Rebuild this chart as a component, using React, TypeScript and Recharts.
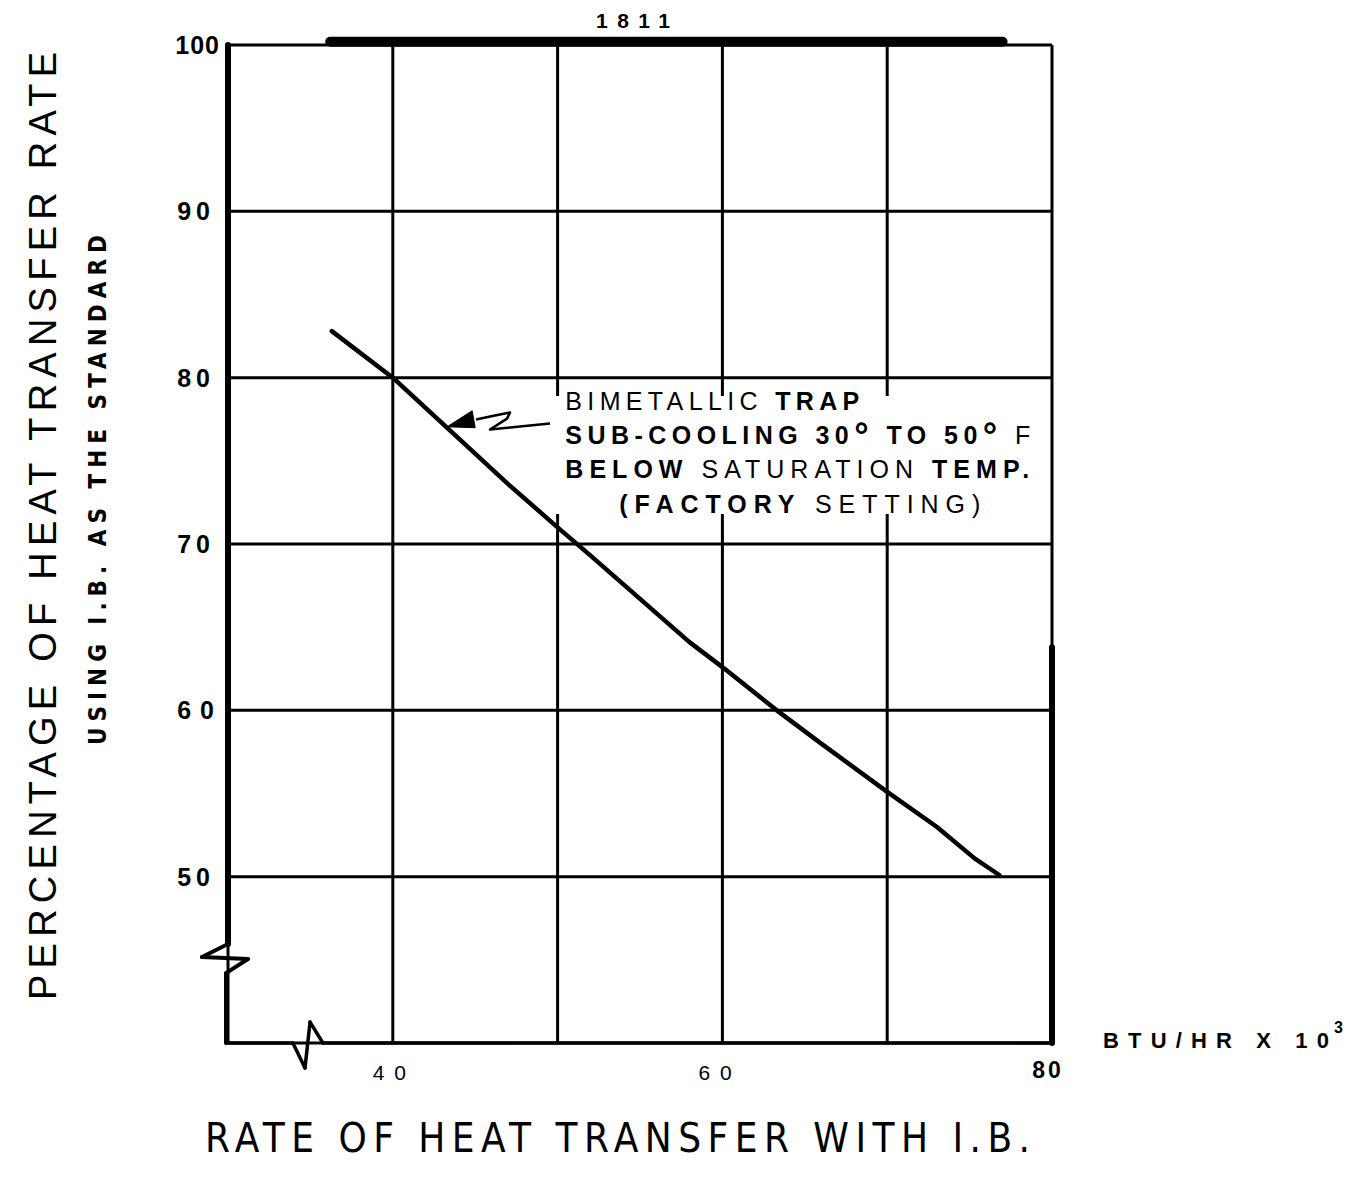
import React from "react";
import {
  ComposedChart,
  Line,
  XAxis,
  YAxis,
  CartesianGrid,
  ReferenceLine,
  ReferenceArea,
  ReferenceDot,
} from "recharts";

// heat transfer rate with I.B. (BTU/HR x 10^3) vs percentage of I.B. rate
const rateX = [36.3, 40, 43.5, 47, 50, 52, 55, 58, 60, 63.3, 66, 70, 73, 75.3, 76.8];
const pctY = [82.8, 80, 76.8, 73.6, 71.0, 69.3, 66.7, 64.1, 62.6, 60, 58, 55.1, 53.0, 51.1, 50.1];

const xTicks = [40, 50, 60, 70, 80];
const yTicks = [50, 60, 70, 80, 90, 100];
const xTickLabels: Record<number, string> = { 40: "4 0", 60: "6 0", 80: "80" };
const yTickLabels: Record<number, string> = {
  50: "50",
  60: "6 0",
  70: "70",
  80: "80",
  90: "90",
  100: "100",
};

// frame pieces (data units) - axis breaks drawn like the original sheet
const leftThick = [
  [30, 100],
  [30, 45.95],
];
const leftBreak = [
  [30, 45.95],
  [28.42, 45.17],
  [31.21, 45.05],
  [29.88, 44.2],
  [29.88, 40],
];
const bottomBreak = [
  [29.88, 40],
  [33.94, 40],
  [34.67, 38.5],
  [34.98, 41.26],
  [35.76, 40],
  [80, 40],
];
const rightThick = [
  [80, 63.8],
  [80, 40],
];
const band1811 = [
  [36.2, 100.2],
  [77.0, 100.2],
];
const arrowTip = [43.3, 77.05];
const arrowTail = [
  [45.05, 77.48],
  [46.2, 77.72],
  [47.11, 77.9],
  [46.93, 77.54],
  [45.9, 76.88],
  [47.72, 77.06],
  [49.54, 77.24],
];

const curveData = rateX.map((x, i) => ({ x, y: pctY[i] }));
const tailData = arrowTail.map(([x, y]) => ({ x, y }));

const FONT = "'Liberation Sans', Arial, Helvetica, sans-serif";
const NARROW = "'Liberation Sans Narrow', 'DejaVu Sans Condensed', 'Liberation Sans', sans-serif";

function segments(pts: number[][], width: number, prefix: string) {
  const out = [];
  for (let i = 0; i < pts.length - 1; i++) {
    out.push(
      <ReferenceLine
        key={`${prefix}-${i}`}
        segment={[
          { x: pts[i][0], y: pts[i][1] },
          { x: pts[i + 1][0], y: pts[i + 1][1] },
        ]}
        stroke="#000"
        strokeWidth={width}
        strokeLinecap="round"
        ifOverflow="visible"
      />
    );
  }
  return out;
}

const XTick = (props: any) => {
  const { x, y, payload } = props;
  const label = xTickLabels[payload.value];
  if (!label) return <g />;
  if (payload.value === 80) {
    return (
      <text
        x={x - 4}
        y={y + 35}
        textAnchor="middle"
        fontFamily={FONT}
        fontSize={23}
        fontWeight="bold"
        letterSpacing={3}
        fill="#000"
      >
        {label}
      </text>
    );
  }
  return (
    <text
      x={x - (payload.value === 40 ? 20 : 24)}
      y={y + 37}
      textAnchor="start"
      fontFamily={FONT}
      fontSize={21}
      letterSpacing={2}
      fill="#000"
    >
      {label}
    </text>
  );
};

const YTick = (props: any) => {
  const { x, y, payload } = props;
  const label = yTickLabels[payload.value];
  if (!label) return <g />;
  return (
    <text
      x={x - (payload.value === 100 ? 8 : 13)}
      y={y + 9}
      textAnchor="end"
      fontFamily={FONT}
      fontSize={25}
      fontWeight="bold"
      letterSpacing={label.length > 2 ? 1 : 5}
      fill="#000"
    >
      {label}
    </text>
  );
};

const BoxText = ({ viewBox }: any) => {
  const x0 = viewBox.x + 11;
  const y0 = viewBox.y;
  return (
    <g fontFamily={FONT} fontSize={25} fill="#000">
      <text x={x0} y={y0 + 14} textLength={294} lengthAdjust="spacing">
        <tspan>BIMETALLIC </tspan>
        <tspan fontWeight="bold">TRAP</tspan>
      </text>
      <text x={x0} y={y0 + 48} fontWeight="bold" textLength={465} lengthAdjust="spacing">
        <tspan>SUB-COOLING 30</tspan>
        <tspan fontSize={36} dy={4}>°</tspan>
        <tspan dy={-4}> TO 50</tspan>
        <tspan fontSize={36} dy={4}>°</tspan>
        <tspan dy={-4} fontWeight="normal"> F</tspan>
      </text>
      <text x={x0} y={y0 + 82} textLength={464} lengthAdjust="spacing">
        <tspan fontWeight="bold">BELOW </tspan>
        <tspan>SATURATION </tspan>
        <tspan fontWeight="bold">TEMP.</tspan>
      </text>
      <text x={x0 + 54} y={y0 + 117} textLength={361} lengthAdjust="spacing">
        <tspan fontWeight="bold">(FACTORY </tspan>
        <tspan>SETTING)</tspan>
      </text>
    </g>
  );
};

const ArrowHead = ({ cx, cy }: any) => (
  <polygon
    points={`${cx},${cy} ${cx + 25},${cy - 16} ${cx + 28},${cy + 1}`}
    fill="#000"
    stroke="#000"
    strokeWidth={1}
  />
);

export default function App() {
  return (
    <div
      style={{
        position: "absolute",
        left: 0,
        top: 0,
        width: 1356,
        height: 1178,
        background: "#fff",
      }}
    >
      <ComposedChart
        width={1356}
        height={1178}
        margin={{ top: 45, right: 304, bottom: 95, left: 168 }}
      >
        <CartesianGrid stroke="#000" strokeWidth={3} />
        <XAxis
          type="number"
          dataKey="x"
          domain={[30, 80]}
          ticks={xTicks}
          interval={0}
          height={40}
          axisLine={false}
          tickLine={false}
          tickSize={0}
          tickMargin={0}
          tick={XTick}
        />
        <YAxis
          type="number"
          dataKey="y"
          domain={[40, 100]}
          ticks={yTicks}
          interval={0}
          width={60}
          axisLine={false}
          tickLine={false}
          tickSize={0}
          tickMargin={0}
          tick={YTick}
        />
        <ReferenceArea
          x1={49.8}
          x2={79.8}
          y1={71.8}
          y2={78.9}
          fill="#fff"
          fillOpacity={1}
          stroke="none"
          ifOverflow="visible"
          label={<BoxText />}
        />
        {segments(leftThick, 6, "lt")}
        {segments(leftBreak, 4, "lb")}
        {segments(bottomBreak, 3.5, "bb")}
        {segments(rightThick, 6, "rt")}
        {segments(band1811, 10, "band")}
        <Line
          data={curveData}
          dataKey="y"
          type="linear"
          stroke="#000"
          strokeWidth={4.5}
          strokeLinejoin="round"
          strokeLinecap="round"
          dot={false}
          activeDot={false}
          isAnimationActive={false}
        />
        <Line
          data={tailData}
          dataKey="y"
          type="linear"
          stroke="#000"
          strokeWidth={2.5}
          strokeLinejoin="round"
          dot={false}
          activeDot={false}
          isAnimationActive={false}
        />
        <ReferenceDot
          x={arrowTip[0]}
          y={arrowTip[1]}
          r={1}
          ifOverflow="visible"
          shape={<ArrowHead />}
        />
      </ComposedChart>
      <svg
        width={1356}
        height={1178}
        style={{ position: "absolute", left: 0, top: 0, pointerEvents: "none" }}
      >
        <text
          transform="translate(56, 1000) rotate(-90)"
          fontFamily={FONT}
          fontSize={38}
          textLength={948}
          lengthAdjust="spacing"
          fill="#000"
        >
          PERCENTAGE OF HEAT TRANSFER RATE
        </text>
        <text
          transform="translate(106, 745) rotate(-90)"
          fontFamily={NARROW}
          fontSize={24}
          fontWeight="bold"
          textLength={510}
          lengthAdjust="spacing"
          fill="#000"
        >
          USING I.B. AS THE STANDARD
        </text>
        <text
          x={205}
          y={1152}
          fontFamily={NARROW}
          fontSize={40}
          textLength={825}
          lengthAdjust="spacing"
          fill="#000"
        >
          RATE OF HEAT TRANSFER WITH I.B.
        </text>
        <text
          x={1103}
          y={1048}
          fontFamily={FONT}
          fontSize={22}
          fontWeight="bold"
          textLength={226}
          lengthAdjust="spacing"
          fill="#000"
        >
          BTU/HR X 10
        </text>
        <text x={1334} y={1033} fontFamily={FONT} fontSize={16} fontWeight="bold" fill="#000">
          3
        </text>
        <text
          x={596}
          y={28}
          fontFamily={FONT}
          fontSize={21}
          fontWeight="bold"
          textLength={74}
          lengthAdjust="spacing"
          fill="#000"
        >
          1811
        </text>
      </svg>
    </div>
  );
}
